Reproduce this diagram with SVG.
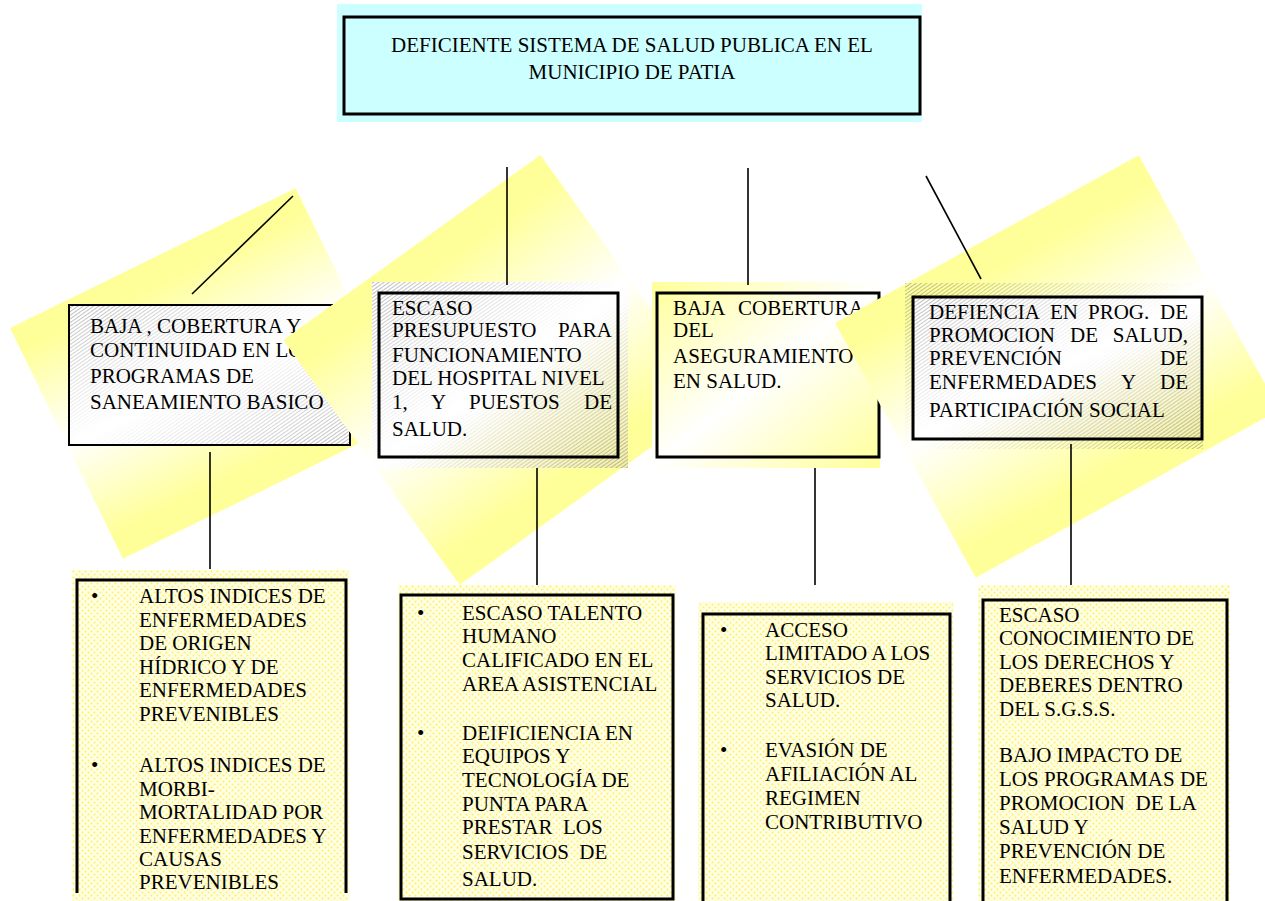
<svg xmlns="http://www.w3.org/2000/svg" width="1265" height="901" viewBox="0 0 1265 901">
<style>
text{font-family:"Liberation Serif","Times New Roman",serif;font-size:21px;fill:#000;white-space:pre}
.frame{fill:none;stroke:#000;stroke-width:3}
.thin{fill:none;stroke:#000;stroke-width:2}
.con{stroke:#000;stroke-width:1.6;fill:none}
</style>
<defs>
<linearGradient id="yband" x1="0" y1="0" x2="0" y2="1">
<stop offset="0" stop-color="#FFFF99"/><stop offset="0.1" stop-color="#FFFF99"/><stop offset="0.5" stop-color="#FFFFFF"/><stop offset="0.9" stop-color="#FFFF99"/><stop offset="1" stop-color="#FFFF99"/>
</linearGradient>
<linearGradient id="ydiag" x1="0" y1="0" x2="1" y2="1">
<stop offset="0" stop-color="#FFFF99"/><stop offset="0.5" stop-color="#FFFFFF"/><stop offset="1" stop-color="#FFFF99"/>
</linearGradient>
<linearGradient id="wy" x1="0" y1="0" x2="1" y2="1">
<stop offset="0" stop-color="#FFFFFF"/><stop offset="0.55" stop-color="#FFFFFF"/><stop offset="1" stop-color="#F4F0A0"/>
</linearGradient>
<linearGradient id="fadeG" x1="0" y1="0" x2="1" y2="1">
<stop offset="0" stop-color="#fff"/><stop offset="0.5" stop-color="#000"/><stop offset="1" stop-color="#fff"/>
</linearGradient>
<mask id="fadeM" maskContentUnits="objectBoundingBox"><rect width="1" height="1" fill="url(#fadeG)"/></mask>
<pattern id="hatch" width="3" height="3" patternUnits="userSpaceOnUse" patternTransform="rotate(-35)">
<line x1="0" y1="1.5" x2="3" y2="1.5" stroke="#8a8a8a" stroke-width="0.6"/>
</pattern>
<pattern id="dots" width="6" height="6" patternUnits="userSpaceOnUse">
<rect width="6" height="6" fill="#FFFFE4"/>
<circle cx="1.5" cy="1.5" r="1" fill="#FFF060"/><circle cx="4.5" cy="4.5" r="1" fill="#FFF060"/>
</pattern>
<clipPath id="noBox1Frame"><path clip-rule="evenodd" d="M0,0H1265V901H0Z M67,303H352V447H67Z M71,307H348V443H71Z"/></clipPath>
</defs>

<g id="node-top">
<rect x="337" y="4" width="585" height="118" fill="#CCFFFF"/>
<rect x="344" y="17" width="576" height="97" fill="#CCFFFF" stroke="#000" stroke-width="3"/>
<text x="632" y="52" text-anchor="middle">DEFICIENTE SISTEMA DE SALUD PUBLICA EN EL</text>
<text x="632" y="79" text-anchor="middle">MUNICIPIO DE PATIA</text>
</g>

<g id="node-1">
<rect transform="translate(10 328) rotate(-26.08)" width="318" height="257" fill="url(#yband)"/>
<rect x="69" y="305" width="281" height="140" fill="#FFFFFF"/>
<rect x="69" y="305" width="281" height="140" fill="url(#hatch)" mask="url(#fadeM)"/>
<text x="90" y="333">BAJA , COBERTURA Y</text>
<text x="90" y="357">CONTINUIDAD EN LOS</text>
<text x="90" y="383">PROGRAMAS DE</text>
<text x="90" y="409">SANEAMIENTO BASICO</text>
<rect x="69" y="305" width="281" height="140" class="thin"/>
</g>

<g id="node-2">
<rect transform="translate(283 340) rotate(-35.75)" width="317" height="302" fill="url(#yband)" clip-path="url(#noBox1Frame)"/>
<rect x="372" y="282" width="256" height="186" fill="url(#wy)"/>
<rect x="372" y="282" width="256" height="186" fill="url(#hatch)" mask="url(#fadeM)"/>
<rect x="379" y="293" width="239" height="164" class="frame"/>
<text x="392" y="315">ESCASO</text>
<text x="392" y="337">PRESUPUESTO</text><text x="612" y="337" text-anchor="end">PARA</text>
<text x="392" y="362">FUNCIONAMIENTO</text>
<text x="392" y="385">DEL HOSPITAL NIVEL</text>
<text x="392" y="409">1,</text><text x="431" y="409">Y</text><text x="469" y="409">PUESTOS</text><text x="612" y="409" text-anchor="end">DE</text>
<text x="392" y="436">SALUD.</text>
</g>

<g id="node-3">
<rect x="652" y="282" width="228" height="186" fill="url(#ydiag)"/>
<rect x="657" y="293" width="222" height="164" class="frame"/>
<text x="673" y="315">BAJA</text><text x="738" y="315">COBERTURA</text>
<text x="673" y="337">DEL</text>
<text x="673" y="363">ASEGURAMIENTO</text>
<text x="673" y="388">EN SALUD.</text>
</g>

<g id="node-4">
<rect transform="translate(835 323) rotate(-28.93)" width="347" height="291" fill="url(#yband)"/>
<rect x="905" y="283" width="298" height="166" fill="url(#hatch)" mask="url(#fadeM)"/>
<rect x="913" y="297" width="289" height="142" fill="url(#wy)"/>
<rect x="913" y="297" width="289" height="142" fill="url(#hatch)" mask="url(#fadeM)"/>
<rect x="913" y="297" width="289" height="142" class="frame"/>
<text x="929" y="319">DEFIENCIA</text><text x="1050" y="319">EN</text><text x="1088" y="319">PROG.</text><text x="1188" y="319" text-anchor="end">DE</text>
<text x="929" y="342">PROMOCION</text><text x="1070" y="342">DE</text><text x="1188" y="342" text-anchor="end">SALUD,</text>
<text x="929" y="365">PREVENCIÓN</text><text x="1188" y="365" text-anchor="end">DE</text>
<text x="929" y="389">ENFERMEDADES</text><text x="1121" y="389">Y</text><text x="1188" y="389" text-anchor="end">DE</text>
<text x="929" y="417">PARTICIPACIÓN SOCIAL</text>
</g>

<g id="node-5">
<rect x="72" y="570" width="277" height="331" fill="url(#dots)"/>
<path d="M77,893V580H346V893" class="frame"/>
<text x="91" y="603">•</text>
<text x="139" y="603">ALTOS INDICES DE</text>
<text x="139" y="627">ENFERMEDADES</text>
<text x="139" y="650">DE ORIGEN</text>
<text x="139" y="674">HÍDRICO Y DE</text>
<text x="139" y="697">ENFERMEDADES</text>
<text x="139" y="721">PREVENIBLES</text>
<text x="91" y="772">•</text>
<text x="139" y="772">ALTOS INDICES DE</text>
<text x="139" y="796">MORBI-</text>
<text x="139" y="819">MORTALIDAD POR</text>
<text x="139" y="843">ENFERMEDADES Y</text>
<text x="139" y="866">CAUSAS</text>
<text x="139" y="889">PREVENIBLES</text>
</g>

<g id="node-6">
<rect x="398" y="585" width="278" height="316" fill="url(#dots)"/>
<rect x="401" y="595" width="272" height="304" class="frame"/>
<text x="417" y="620">•</text>
<text x="462" y="620">ESCASO TALENTO</text>
<text x="462" y="643">HUMANO</text>
<text x="462" y="667">CALIFICADO EN EL</text>
<text x="462" y="691">AREA ASISTENCIAL</text>
<text x="417" y="740">•</text>
<text x="462" y="740">DEIFICIENCIA EN</text>
<text x="462" y="763">EQUIPOS Y</text>
<text x="462" y="787">TECNOLOGÍA DE</text>
<text x="462" y="811">PUNTA PARA</text>
<text x="462" y="834">PRESTAR  LOS</text>
<text x="462" y="859">SERVICIOS  DE</text>
<text x="462" y="886">SALUD.</text>
</g>

<g id="node-7">
<rect x="698" y="602" width="255" height="299" fill="url(#dots)"/>
<path d="M703,902V614H950V902" class="frame"/>
<text x="720" y="637">•</text>
<text x="765" y="637">ACCESO</text>
<text x="765" y="660">LIMITADO A LOS</text>
<text x="765" y="684">SERVICIOS DE</text>
<text x="765" y="707">SALUD.</text>
<text x="720" y="757">•</text>
<text x="765" y="757">EVASIÓN DE</text>
<text x="765" y="781">AFILIACIÓN AL</text>
<text x="765" y="805">REGIMEN</text>
<text x="765" y="829">CONTRIBUTIVO</text>
</g>

<g id="node-8">
<rect x="978" y="585" width="252" height="316" fill="url(#dots)"/>
<path d="M983,902V600H1227V902" class="frame"/>
<text x="999" y="622">ESCASO</text>
<text x="999" y="645">CONOCIMIENTO DE</text>
<text x="999" y="669">LOS DERECHOS Y</text>
<text x="999" y="692">DEBERES DENTRO</text>
<text x="999" y="716">DEL S.G.S.S.</text>
<text x="999" y="762">BAJO IMPACTO DE</text>
<text x="999" y="786">LOS PROGRAMAS DE</text>
<text x="999" y="810">PROMOCION  DE LA</text>
<text x="999" y="834">SALUD Y</text>
<text x="999" y="858">PREVENCIÓN DE</text>
<text x="999" y="883">ENFERMEDADES.</text>
</g>

<g id="connectors">
<line x1="293" y1="196" x2="192" y2="294" class="con"/>
<line x1="507" y1="167" x2="507" y2="285" class="con"/>
<line x1="748" y1="168" x2="748" y2="285" class="con"/>
<line x1="926" y1="176" x2="981" y2="279" class="con"/>
<line x1="210" y1="452" x2="210" y2="569" class="con"/>
<line x1="537" y1="468" x2="537" y2="585" class="con"/>
<line x1="815" y1="468" x2="815" y2="585" class="con"/>
<line x1="1071" y1="444" x2="1071" y2="585" class="con"/>
</g>
</svg>
